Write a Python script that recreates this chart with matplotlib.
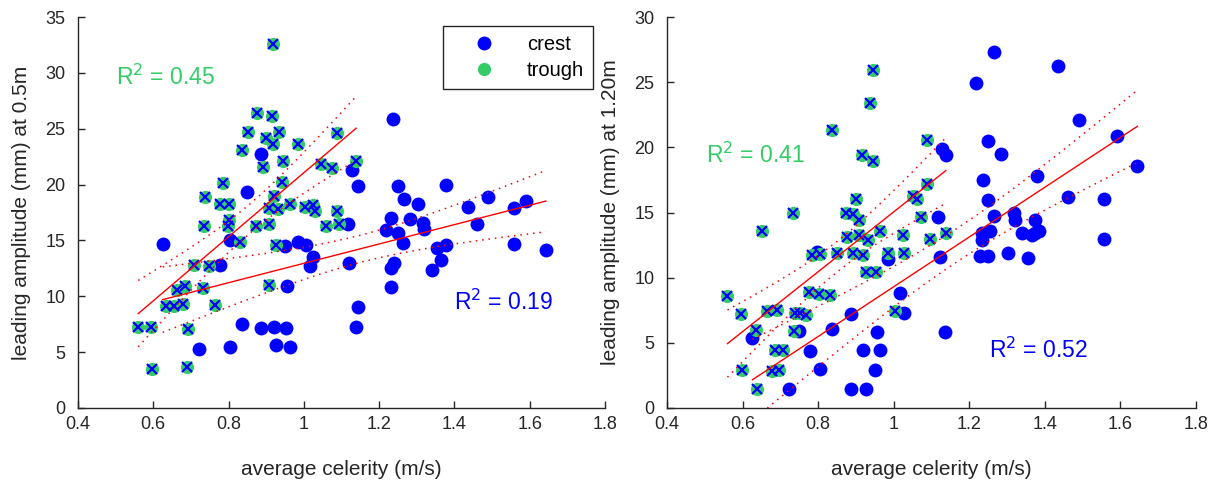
import numpy as np
import matplotlib.pyplot as plt
from matplotlib.ticker import MultipleLocator, FormatStrFormatter

plt.rcParams['font.family'] = ['Liberation Sans', 'DejaVu Sans']

# --- gauge at 0.5 m ---
crest_cel_05 = [0.886, 1.128, 1.145, 0.849, 1.238, 1.251, 1.266, 1.304, 1.378, 1.490,
                1.436, 1.557, 1.590, 1.232, 1.282, 1.317, 1.319, 1.459, 1.118, 1.218,
                1.251, 1.264, 1.557, 1.643, 1.121, 1.240, 1.232, 1.355, 1.378, 1.365,
                1.340, 1.232, 1.145, 1.139, 0.625, 0.804, 0.950, 0.985, 1.006, 1.025,
                1.016, 0.777, 0.956, 0.835, 0.886, 0.920, 0.952, 0.721, 0.804, 0.926,
                0.963]
crest_amp_05 = [22.7, 21.3, 19.9, 19.3, 25.86, 19.9, 18.7, 18.25, 19.95, 18.9,
                18.0, 17.9, 18.5, 17.05, 16.9, 16.6, 16.0, 16.5, 16.5, 15.95,
                15.7, 14.8, 14.7, 14.15, 13.0, 13.0, 12.5, 14.3, 14.6, 13.25,
                12.36, 10.87, 9.07, 7.23, 14.7, 15.05, 14.5, 14.85, 14.6, 13.5,
                12.75, 12.8, 10.9, 7.5, 7.12, 7.28, 7.14, 5.29, 5.47, 5.6,
                5.47]
trough_cel_05 = [0.917, 0.875, 0.916, 0.852, 0.934, 0.899, 0.917, 0.985, 0.836, 1.087,
                 0.891, 0.945, 1.045, 1.074, 1.139, 0.943, 0.785, 0.737, 0.776, 0.801,
                 0.921, 0.907, 0.931, 0.963, 1.003, 1.025, 1.030, 1.087, 1.094, 0.734,
                 0.802, 0.798, 0.874, 0.907, 1.058, 0.830, 0.925, 0.707, 0.749, 0.662,
                 0.684, 0.733, 0.907, 0.634, 0.655, 0.680, 0.765, 0.560, 0.595, 0.693,
                 0.596, 0.690]
trough_amp_05 = [32.6, 26.4, 26.1, 24.7, 24.75, 24.2, 23.65, 23.65, 23.1, 24.65,
                 21.6, 22.1, 21.8, 21.5, 22.1, 20.2, 20.1, 18.9, 18.25, 18.3,
                 18.95, 17.9, 17.85, 18.3, 18.0, 18.2, 17.6, 17.65, 16.5, 16.3,
                 16.85, 16.25, 16.3, 16.5, 16.25, 14.85, 14.55, 12.8, 12.7, 10.55,
                 10.9, 10.7, 11.05, 9.14, 9.14, 9.3, 9.2, 7.28, 7.28, 7.08,
                 3.52, 3.70]

# --- gauge at 1.20 m ---
crest_cel_120 = [1.128, 1.138, 1.118, 0.796, 0.986, 1.017, 0.626, 0.750, 0.886, 0.836,
                 0.957, 1.027, 0.778, 0.919, 0.964, 0.804, 0.950, 0.722, 0.887, 0.927,
                 1.122, 1.136, 1.265, 1.435, 1.218, 1.491, 1.249, 1.283, 1.590, 1.237,
                 1.378, 1.645, 1.250, 1.462, 1.557, 1.265, 1.318, 1.320, 1.374, 1.374,
                 1.339, 1.365, 1.385, 1.233, 1.255, 1.233, 1.228, 1.250, 1.303, 1.356,
                 1.557]
crest_amp_120 = [19.9, 19.4, 14.65, 12.0, 11.4, 8.8, 5.4, 5.92, 7.22, 6.05,
                 5.86, 7.3, 4.35, 4.47, 4.47, 3.0, 2.95, 1.43, 1.43, 1.43,
                 11.6, 5.86, 27.35, 26.27, 24.9, 22.1, 20.5, 19.5, 20.9, 17.5,
                 17.8, 18.6, 15.97, 16.2, 16.05, 14.75, 14.95, 14.45, 14.4, 13.4,
                 13.4, 13.3, 13.55, 13.4, 13.55, 12.9, 11.67, 11.67, 11.9, 11.5,
                 13.0]
trough_cel_120 = [0.944, 0.936, 0.836, 1.089, 0.917, 0.946, 0.734, 0.899, 1.089, 1.050,
                  1.061, 1.071, 0.873, 0.893, 0.651, 0.908, 0.876, 0.908, 0.932, 0.963,
                  1.025, 0.785, 0.805, 0.851, 0.891, 0.919, 0.986, 1.026, 0.926, 0.953,
                  0.560, 0.595, 0.777, 0.801, 0.831, 0.664, 0.692, 0.738, 0.752, 0.767,
                  0.635, 0.735, 1.004, 0.686, 0.708, 0.598, 0.679, 0.697, 0.639, 1.096,
                  1.138]
trough_amp_120 = [25.9, 23.4, 21.3, 20.6, 19.45, 18.95, 15.0, 16.0, 17.2, 16.3,
                  16.0, 14.65, 14.95, 14.85, 13.55, 14.4, 13.1, 13.3, 12.9, 13.55,
                  13.3, 11.72, 11.8, 11.9, 11.9, 11.77, 11.9, 11.9, 10.4, 10.47,
                  8.6, 7.2, 8.93, 8.77, 8.68, 7.42, 7.5, 7.28, 7.27, 7.14,
                  6.02, 5.9, 7.42, 4.45, 4.45, 2.9, 2.87, 2.9, 1.46, 13.0,
                  13.4]

r2_labels = [("0.45", "0.19"), ("0.41", "0.52")]

GREEN = '#33cc66'
BLUE = '#0000ff'
AXC = '#262626'
T95 = 2.01


def fit_band(x, y):
    x = np.asarray(x)
    y = np.asarray(y)
    b, a = np.polyfit(x, y, 1)
    xs = np.linspace(x.min(), x.max(), 80)
    yhat = a + b * xs
    n = len(x)
    s = np.sqrt(np.sum((y - (a + b * x)) ** 2) / (n - 2))
    sxx = np.sum((x - x.mean()) ** 2)
    half = T95 * s * np.sqrt(1.0 / n + (xs - x.mean()) ** 2 / sxx)
    return xs, yhat, yhat - half, yhat + half


fig = plt.figure(figsize=(12.2, 4.83), dpi=100)
ax1 = fig.add_axes([78 / 1220, 75 / 483, 527 / 1220, 391 / 483])
ax2 = fig.add_axes([667 / 1220, 75 / 483, 529 / 1220, 391 / 483])

panels = [
    (ax1, crest_cel_05, crest_amp_05, trough_cel_05, trough_amp_05, 35,
     'leading amplitude (mm) at 0.5m', (0.50, 29.6), (1.40, 9.5)),
    (ax2, crest_cel_120, crest_amp_120, trough_cel_120, trough_amp_120, 30,
     'leading amplitude (mm) at 1.20m', (0.503, 19.4), (1.252, 4.45)),
]

for i, (ax, cx, cy, tx, ty, ymax, ylab, tpos, cpos) in enumerate(panels):
    ax.plot(cx, cy, 'o', color=BLUE, ms=10, mec='none', label='crest', zorder=2)
    ax.plot(tx, ty, 'o', color=GREEN, ms=9.5, mec='none', label='trough', zorder=3)
    ax.plot(tx, ty, 'x', color=BLUE, ms=7.5, mew=1.6, zorder=4)

    for xx, yy in [(cx, cy), (tx, ty)]:
        xs, yhat, lo, hi = fit_band(xx, yy)
        ax.plot(xs, yhat, '-', color='red', lw=1.0, zorder=5)
        ax.plot(xs, lo, color='red', lw=1.1, ls=(0, (1, 3.2)), zorder=5)
        ax.plot(xs, hi, color='red', lw=1.1, ls=(0, (1, 3.2)), zorder=5)

    ax.text(tpos[0], tpos[1], 'R$^2$ = ' + r2_labels[i][0], color=GREEN,
            fontsize=16.5, va='center', ha='left')
    ax.text(cpos[0], cpos[1], 'R$^2$ = ' + r2_labels[i][1], color=BLUE,
            fontsize=16.5, va='center', ha='left')

    ax.set_xlim(0.4, 1.8)
    ax.set_ylim(0, ymax)
    ax.xaxis.set_major_locator(MultipleLocator(0.2))
    ax.xaxis.set_major_formatter(FormatStrFormatter('%g'))
    ax.yaxis.set_major_locator(MultipleLocator(5))
    ax.spines['top'].set_visible(False)
    ax.spines['right'].set_visible(False)
    for sp in ['left', 'bottom']:
        ax.spines[sp].set_color(AXC)
        ax.spines[sp].set_linewidth(1.0)
    ax.tick_params(direction='in', length=5, width=1, colors=AXC, labelsize=13)
    ax.tick_params(axis='x', pad=6)
    ax.tick_params(axis='y', pad=9)
    ax.set_xlabel('average celerity (m/s)', fontsize=15, color=AXC, labelpad=19)
    ax.set_ylabel(ylab, fontsize=15, color=AXC, labelpad=10)

leg = ax1.legend(loc='upper right', bbox_to_anchor=(0.977, 0.977), borderaxespad=0,
                 fontsize=14.5, handlelength=3.2, handletextpad=0.5, borderpad=0.45,
                 labelspacing=0.35, fancybox=False, framealpha=1, numpoints=1)
leg.get_frame().set_edgecolor(AXC)
leg.get_frame().set_linewidth(1.0)

fig.savefig('out.png', dpi=100)
plt.close(fig)
